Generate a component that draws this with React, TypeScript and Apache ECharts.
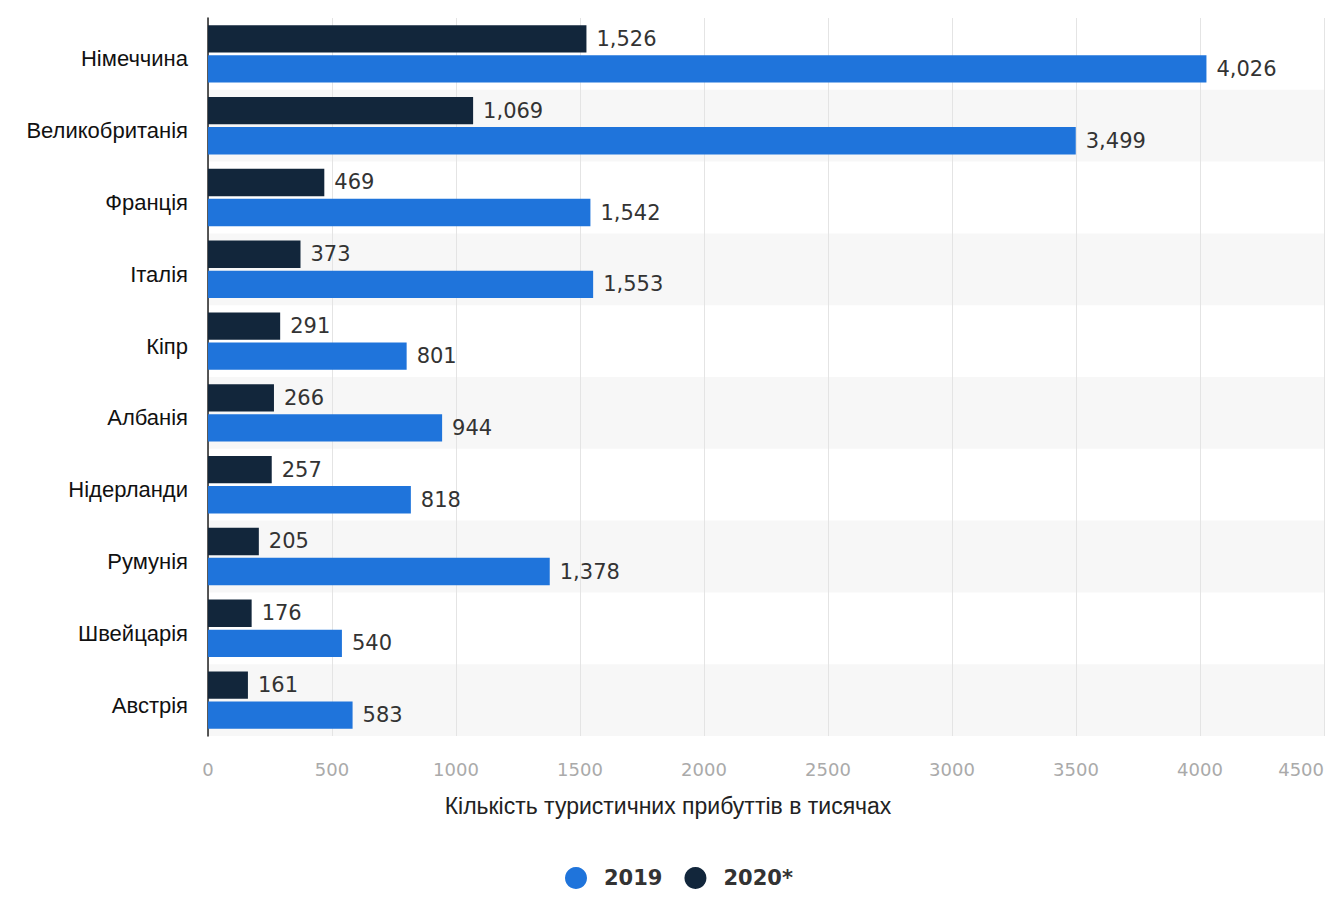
import React, { useEffect, useRef } from "react";
import * as echarts from "echarts";

const categories = [
  "Німеччина",
  "Великобританія",
  "Франція",
  "Італія",
  "Кіпр",
  "Албанія",
  "Нідерланди",
  "Румунія",
  "Швейцарія",
  "Австрія",
];
const values2019 = [4026, 3499, 1542, 1553, 801, 944, 818, 1378, 540, 583];
const values2020 = [1526, 1069, 469, 373, 291, 266, 257, 205, 176, 161];
const seriesNames = ["2019", "2020*"];
const axisTitle = "Кількість туристичних прибуттів в тисячах";

const BLUE = "#1f74db";
const NAVY = "#12263b";

export default function App() {
  const ref = useRef<HTMLDivElement>(null);
  useEffect(() => {
    document.body.style.margin = "0";
    const chart = echarts.init(ref.current!, null, { renderer: "svg" });
    const fmt = (p: any) => Number(p.value).toLocaleString("en-US");
    const labelStyle = {
      show: true,
      position: "right" as const,
      distance: 10,
      formatter: fmt,
      color: "#333",
      fontFamily: "DejaVu Sans",
      fontSize: 21,
    };
    chart.setOption({
      animation: false,
      title: {
        text: axisTitle,
        left: "center",
        top: 789,
        textStyle: {
          fontFamily: "Liberation Sans",
          fontSize: 23,
          fontWeight: "normal",
          color: "#222",
        },
      },
      legend: {
        data: seriesNames,
        left: 560,
        top: 862,
        icon: "circle",
        itemWidth: 22,
        itemHeight: 22,
        itemGap: 22,
        textStyle: {
          fontFamily: "DejaVu Sans",
          fontSize: 21,
          fontWeight: "bold",
          color: "#333",
          padding: [0, 0, 0, 12],
        },
      },
      grid: { left: 208, right: 12, top: 18, bottom: 163, containLabel: false },
      xAxis: {
        type: "value",
        min: 0,
        max: 4500,
        interval: 500,
        axisLine: { show: false },
        axisTick: { show: false },
        splitLine: { show: true, lineStyle: { color: "#e4e4e4", width: 1 } },
        axisLabel: {
          color: "#aaa",
          fontFamily: "DejaVu Sans",
          fontSize: 18,
          margin: 24,
          alignMaxLabel: "right",
          formatter: (v: number) => String(v),
        },
      },
      yAxis: {
        type: "category",
        data: categories,
        inverse: true,
        axisLine: { show: true, lineStyle: { color: "#222", width: 1.5 } },
        axisTick: { show: false },
        splitArea: {
          show: true,
          areaStyle: { color: ["rgba(255,255,255,0)", "#f7f7f7"] },
        },
        axisLabel: {
          margin: 20,
          formatter: (v: string) => `{a|${v}}`,
          rich: {
            a: {
              color: "#111",
              fontFamily: "Liberation Sans",
              fontSize: 22,
              padding: [10, 0, 0, 0],
            },
          },
        },
      },
      series: [
        {
          name: "2020*",
          type: "bar",
          data: values2020,
          itemStyle: { color: NAVY },
          barGap: "10%",
          barCategoryGap: "20%",
          label: labelStyle,
          z: 3,
        },
        {
          name: "2019",
          type: "bar",
          data: values2019,
          itemStyle: { color: BLUE },
          barGap: "10%",
          barCategoryGap: "20%",
          label: labelStyle,
          z: 3,
        },
      ],
    });
    return () => chart.dispose();
  }, []);
  return <div ref={ref} style={{ width: 1336, height: 899 }} />;
}
